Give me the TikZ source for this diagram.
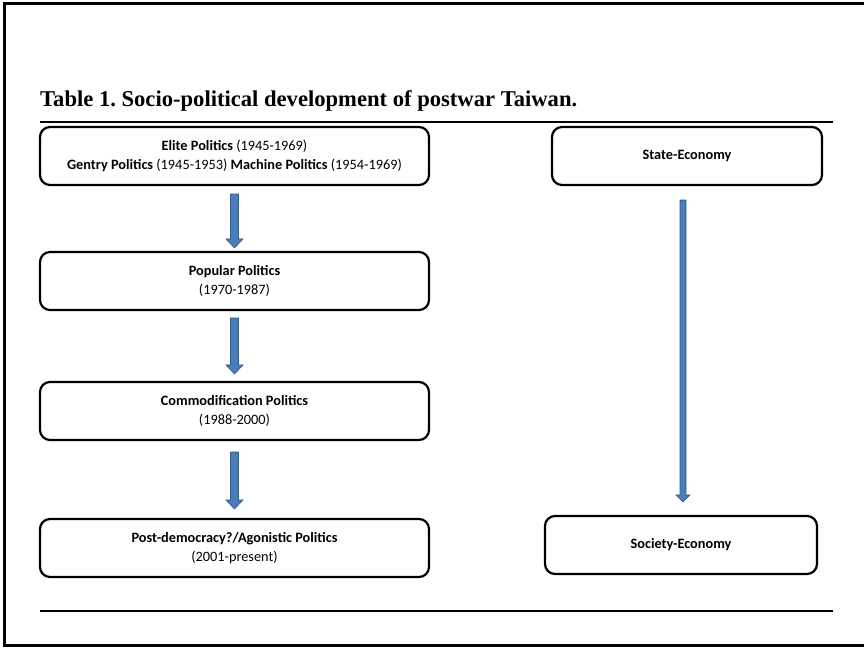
\documentclass[tikz,border=0pt]{standalone}
\usepackage{fontspec}
\setmainfont{Carlito}
\newfontfamily\titlefont{Liberation Serif}
\usetikzlibrary{calc}
\definecolor{arrowfill}{HTML}{4A7EBB}
\definecolor{arrowedge}{HTML}{345C8C}
\tikzset{
  box/.style={draw=black, line width=2.2pt, rounded corners=10pt, align=center,
    inner sep=0pt, font=\fontsize{14.3}{19}\selectfont},
  blockarrow/.style={fill=arrowfill, draw=arrowedge, line width=0.8pt, line join=miter},
  frameline/.style={line width=3pt},
  rule/.style={line width=2.5pt}
}
\newcommand{\blockarr}[5]{% start, tip, half shaft, half head, head length
  \path let \p1=(#1), \p2=(#2) in
    [blockarrow] ({\x1-#3pt},\y1) -- ({\x1+#3pt},\y1) -- ({\x1+#3pt},{\y2+#5pt})
    -- ({\x1+#4pt},{\y2+#5pt}) -- (\x1,\y2) -- ({\x1-#4pt},{\y2+#5pt})
    -- ({\x1-#3pt},{\y2+#5pt}) -- cycle;}
\begin{document}
\frenchspacing
\begin{tikzpicture}[x=1pt,y=-1pt]
\useasboundingbox (0,0) rectangle (864,647);
% frame
\draw[frameline] (866,4) -- (4,4) -- (4,645) -- (866,645);
% title
\node[anchor=base west, inner sep=0pt, font=\titlefont\bfseries\fontsize{22.6}{26}\selectfont] (title) at (40,107)
  {Table 1. Socio-political development of postwar Taiwan.};
\coordinate (rl) at (40,122);
\coordinate (rr) at (833,122);
\draw[rule] (rl) -- (rr);
% left column
\node[box, minimum width=389pt, minimum height=58pt] (elite) at (234.5,156)
  {\textbf{Elite Politics} (1945-1969)\\\textbf{Gentry Politics} (1945-1953) \textbf{Machine Politics} (1954-1969)};
\node[box, minimum width=389pt, minimum height=58pt] (popular) at (234.5,281)
  {\textbf{Popular Politics}\\(1970-1987)};
\node[box, minimum width=389pt, minimum height=58pt] (commod) at (234.5,411)
  {\textbf{Commodification Politics}\\(1988-2000)};
\node[box, minimum width=389pt, minimum height=58pt] (post) at (234.5,548)
  {\textbf{Post-democracy?/Agonistic Politics}\\(2001-present)};
% right column
\node[box, minimum width=270pt, minimum height=58pt] (state) at (687,156)
  {\textbf{State-Economy}};
\node[box, minimum width=272pt, minimum height=58pt] (society) at (681,545)
  {\textbf{Society-Economy}};
% arrows
\coordinate (a1s) at ($(elite.south)+(0,8)$);
\coordinate (a1e) at ($(popular.north)+(0,-3)$);
\coordinate (a2s) at ($(popular.south)+(0,7)$);
\coordinate (a2e) at ($(commod.north)+(0,-7)$);
\coordinate (a3s) at ($(commod.south)+(0,11)$);
\coordinate (a3e) at ($(post.north)+(0,-9)$);
\blockarr{a1s}{a1e}{4}{8.5}{9}
\blockarr{a2s}{a2e}{4}{8.5}{9}
\blockarr{a3s}{a3e}{4}{8.5}{9}
\coordinate (r1s) at ($(state.south)+(-4,14)$);
\coordinate (r1e) at ($(society.north)+(2,-13)$);
\blockarr{r1s}{r1e}{3}{7}{7}
% bottom rule
\coordinate (bl) at (40,611);
\coordinate (br) at (833,611);
\draw[rule] (bl) -- (br);
\end{tikzpicture}
\end{document}
